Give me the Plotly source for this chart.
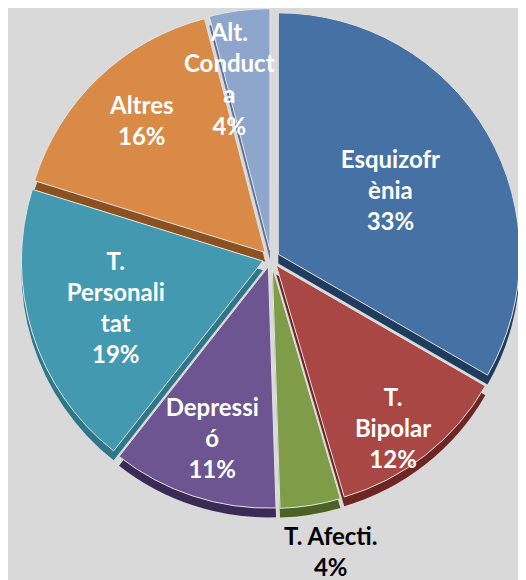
import plotly.graph_objects as go

categories = ["Esquizofrènia", "T. Bipolar", "T. Afecti.", "Depressió",
              "T. Personalitat", "Altres", "Alt. Conducta"]
display_labels = ["Esquizofr<br>ènia", "T.<br>Bipolar", "T. Afecti.", "Depressi<br>ó",
                  "T.<br>Personali<br>tat", "Altres", "Alt.<br>Conduct<br>a"]
values = [33, 12, 4, 11, 19, 16, 4]
colors = ["#4671a4", "#a94744", "#7f9c48", "#6c5590", "#4399b0", "#d98a46", "#8fa6cc"]
side_colors = ["#1f3b5e", "#6e2624", "#4b6224", "#3b2a55", "#2f7689", "#8c5120", "#5e7094"]
# some labels are placed as annotations (as in the original Excel layout)
text_positions = ["inside", "none", "none", "inside", "inside", "none", "none"]

FONT = "Lato"
SIZE = 24
total = sum(values)
pct = [round(100 * v / total) for v in values]

dom_x = [0.0, 1.0]
dom_y = [0.137, 0.999]
depth = 0.016

common = dict(
    labels=categories, values=values, sort=False, direction="clockwise",
    rotation=0, pull=[0.035] * len(values), showlegend=False,
)

# darker copy, shifted down: the side walls of the 3-D pie
fig = go.Figure(go.Pie(
    **common,
    marker=dict(colors=side_colors, line=dict(width=0)),
    textinfo="none", hoverinfo="skip",
    domain=dict(x=dom_x, y=[dom_y[0] - depth, dom_y[1] - depth]),
))

fig.add_trace(go.Pie(
    **common,
    customdata=display_labels,
    texttemplate="<b>%{customdata}<br>%{percent:.0%}</b>",
    textposition=text_positions,
    textfont=dict(color="white", size=SIZE, family=FONT),
    insidetextorientation="horizontal",
    marker=dict(colors=colors, line=dict(color="#e4e4e4", width=1)),
    hoverinfo="label+percent",
    domain=dict(x=dom_x, y=dom_y),
))

label_spots = {1: (0.732, 0.276, "white"),
               2: (0.614, 0.064, "black"),
               5: (0.253, 0.807, "white"),
               6: (0.422, 0.878, "white")}
for i, (lx, ly, col) in label_spots.items():
    fig.add_annotation(
        x=lx, y=ly, xref="paper", yref="paper",
        text="<b>%s<br>%d%%</b>" % (display_labels[i], pct[i]),
        showarrow=False,
        font=dict(color=col, size=SIZE, family=FONT),
        xanchor="center", yanchor="middle",
    )

fig.update_layout(
    width=526, height=580,
    paper_bgcolor="#d9d9d9",
    plot_bgcolor="#d9d9d9",
    margin=dict(l=0, r=0, t=0, b=0),
    uniformtext=dict(minsize=SIZE, mode="show"),
    font=dict(family=FONT, size=SIZE),
)

fig.write_html("out.html")
